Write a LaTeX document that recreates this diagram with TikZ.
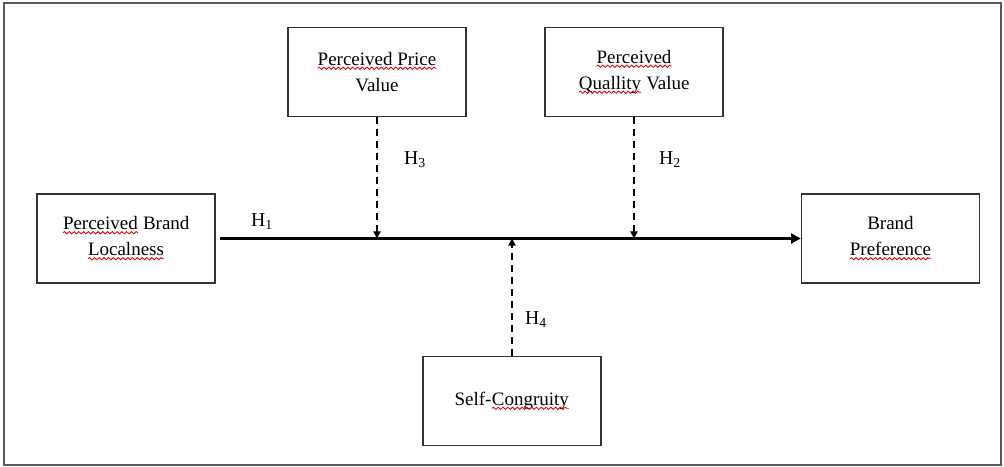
\documentclass[tikz,border=0pt]{standalone}
\usepackage{fontspec}
\setmainfont{Liberation Serif}
\usetikzlibrary{arrows.meta,decorations.pathmorphing}

\tikzset{
  varbox/.style={draw=black!80,line width=0.9pt,minimum width=4.45cm,minimum height=2.225cm,
    align=center,font=\fontsize{13.5}{18.5}\selectfont},
  hyp/.style={font=\fontsize{14}{16}\selectfont},
  mainarrow/.style={line width=2pt,-{Triangle[length=7pt,width=7pt]}},
  modarrow/.style={line width=1.4pt,dash pattern=on 5pt off 3.5pt,-{Triangle[length=5pt,width=5pt]}}
}
% red wavy spell-check underline
\newcommand{\wavy}[1]{\tikz[baseline=(w.base),x=1cm,y=1cm]{\node[draw=none,inner sep=0pt,outer sep=0pt,
  minimum width=0pt,minimum height=0pt,align=left](w){#1};
  \draw[red!85!black,line width=0.6pt,decorate,decoration={snake,amplitude=0.8pt,segment length=3.4pt}]
  ([yshift=-2pt]w.base west) -- ([yshift=-2pt]w.base east);}}

\begin{document}
\begin{tikzpicture}[x=0.025cm,y=-0.025cm]
\useasboundingbox (0,0) rectangle (1004,466);
\draw[black!65,line width=1pt] (4,3) rectangle (1001,465);

\node[varbox] (bl) at (126,238.5) {\wavy{Perceived} Brand\\ \wavy{Localness}};
\node[varbox] (pv) at (377,72) {\wavy{Perceived Price}\\ Value};
\node[varbox] (qv) at (634,72) {\wavy{Perceived}\\ \wavy{Quallity} Value};
\node[varbox] (bp) at (890.5,238.5) {Brand\\ \wavy{Preference}};
\node[varbox] (sc) at (512,401) {Self-\wavy{Congruity}};

% points on the main path
\coordinate (m3) at (pv.south |- bl.east);
\coordinate (m2) at (qv.south |- bl.east);
\coordinate (m4) at (sc.north |- bl.east);

\draw[mainarrow] ([xshift=3pt]bl.east) -- (bp.west);
\draw[modarrow] (pv.south) -- (m3);
\draw[modarrow] (qv.south) -- (m2);
\draw[modarrow] (sc.north) -- (m4);

\node[hyp] (h1) at (262,222) {H\textsubscript{1}};
\node[hyp] (h3) at (415,160) {H\textsubscript{3}};
\node[hyp] (h2) at (670,160) {H\textsubscript{2}};
\node[hyp] (h4) at (536,320) {H\textsubscript{4}};
\end{tikzpicture}
\end{document}
